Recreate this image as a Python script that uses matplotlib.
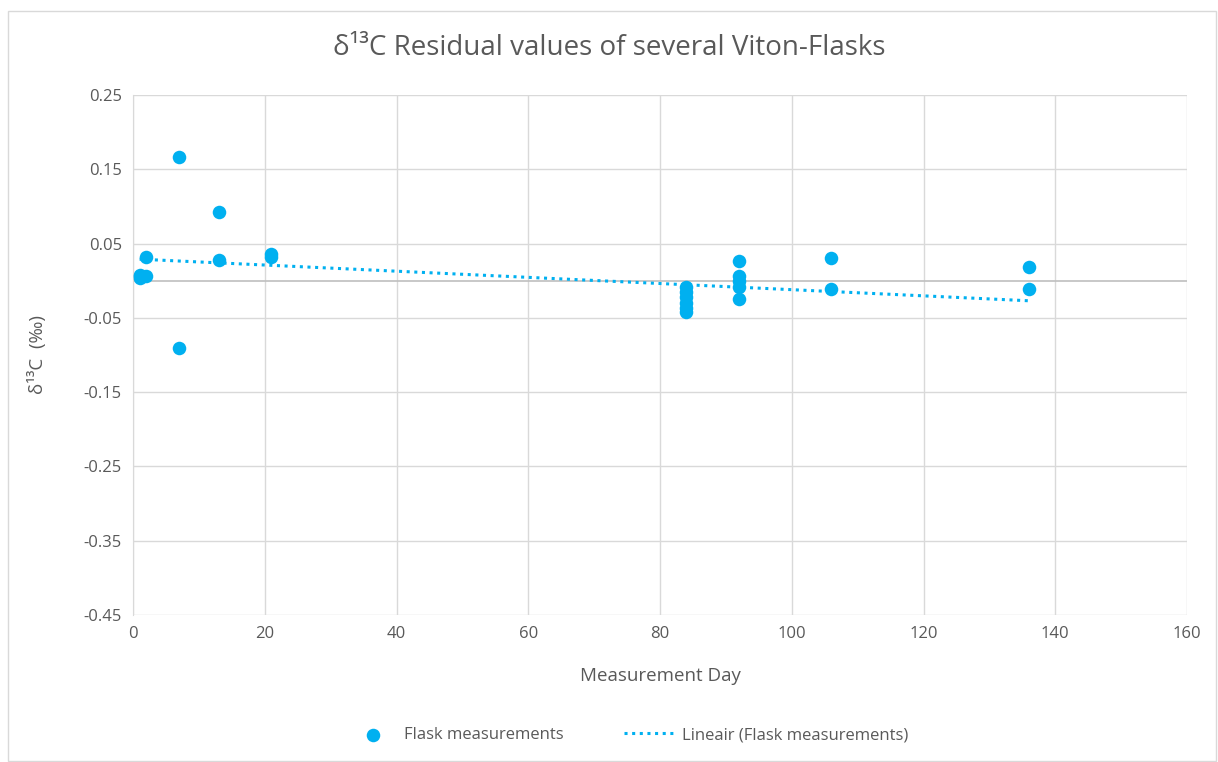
import matplotlib
matplotlib.use("Agg")
import matplotlib.pyplot as plt
import numpy as np

plt.rcParams['font.family'] = ['Open Sans', 'DejaVu Sans']

days = [1, 1, 1, 2, 2, 7, 7, 13, 13, 21, 21,
        84, 84, 84, 84, 84, 84,
        92, 92, 92, 92, 92,
        106, 106, 136, 136]
resid = [0.008, 0.004, 0.006, 0.006, 0.032, 0.167, -0.091, 0.092, 0.028, 0.036, 0.032,
         -0.008, -0.015, -0.022, -0.030, -0.037, -0.042,
         0.027, 0.006, -0.001, -0.008, -0.025,
         0.030, -0.011, 0.018, -0.011]
trend_x = [1, 136]
trend_y = [0.029, -0.027]

x_ticks = [0, 20, 40, 60, 80, 100, 120, 140, 160]
y_ticks = [0.25, 0.15, 0.05, -0.05, -0.15, -0.25, -0.35, -0.45]

blue = '#00B0F0'
txt = '#595959'

fig = plt.figure(figsize=(12.18, 7.62), dpi=100)
ax = fig.add_axes([133/1218, 1-615/762, (1187-133)/1218, (615-95)/762])

ax.scatter(days, resid, s=95, color=blue, zorder=3, label='Flask measurements', linewidths=0)
ax.plot(trend_x, trend_y, linestyle=(0, (1, 1.5)), color=blue, lw=2.2,
        label='Lineair (Flask measurements)', zorder=2)

ax.set_xlim(0, 160)
ax.set_ylim(-0.45, 0.25)
ax.set_xticks(x_ticks)
ax.set_yticks(y_ticks)
ax.set_yticklabels([f'{v:.2f}' for v in y_ticks])
ax.grid(True, color='#D9D9D9', lw=1)
ax.axhline(0, color='#BFBFBF', lw=1.2, zorder=1)
for s in ax.spines.values():
    s.set_visible(False)
ax.spines['left'].set_visible(True)
ax.spines['left'].set_color('#D9D9D9')
ax.tick_params(length=0, labelsize=12, colors=txt, pad=8)
ax.set_axisbelow(True)

ax.set_xlabel('Measurement Day', fontsize=13.5, color=txt, labelpad=18)
ax.set_ylabel('δ¹³C  (‰)', fontsize=13.5, color=txt, labelpad=26)
fig.text(0.5, 1-48/762, 'δ¹³C Residual values of several Viton-Flasks', ha='center', va='center',
         fontsize=20, color=txt)

fig.legend(loc='center', bbox_to_anchor=(0.515, 1-735/762), ncol=2, frameon=False,
           fontsize=12, labelcolor=txt, handlelength=3.2, handletextpad=0.3, columnspacing=3.6)

border = plt.Rectangle((8/1218, 0.001), 1-10/1218, 1-12/762, transform=fig.transFigure,
                       fill=False, edgecolor='#D9D9D9', lw=1)
fig.patches.append(border)

fig.savefig('out.png', dpi=100, facecolor='white')
